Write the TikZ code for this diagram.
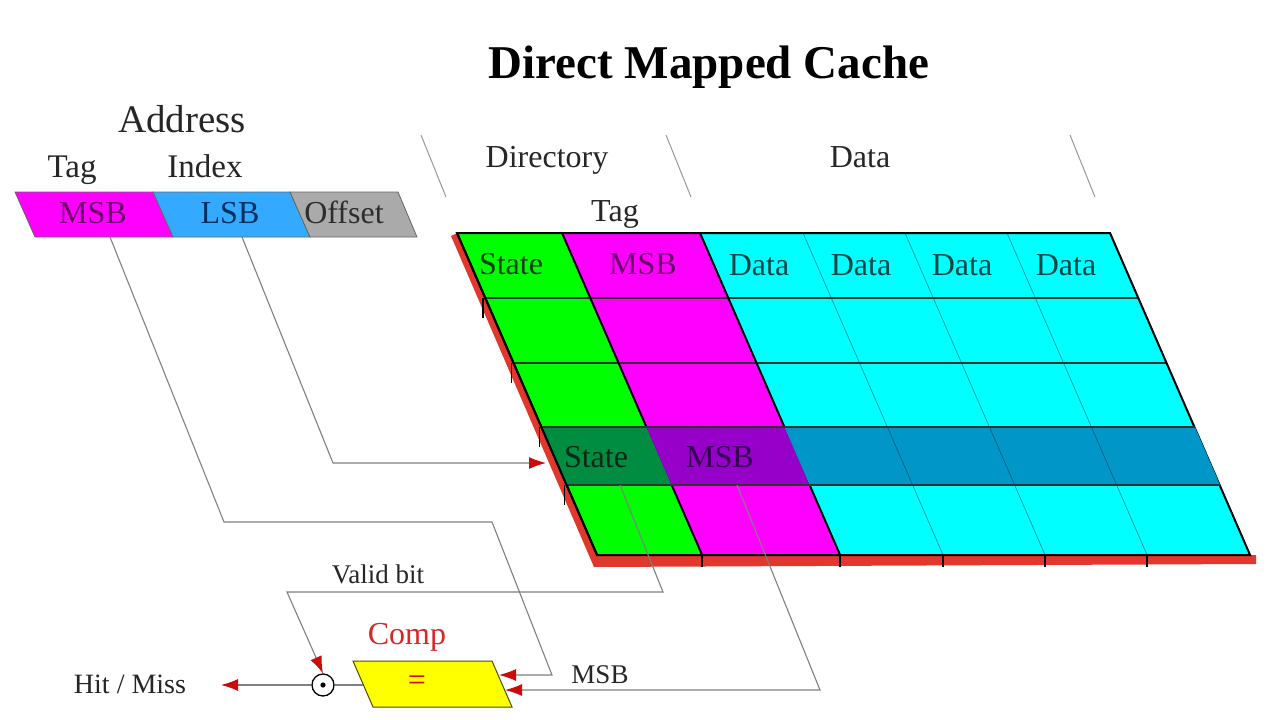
\documentclass[tikz,border=0pt]{standalone}
\usepackage{fontspec}
\setmainfont{Liberation Serif}
\usetikzlibrary{arrows.meta}
\definecolor{cgreen}{RGB}{0,255,0}
\definecolor{cmag}{RGB}{255,0,255}
\definecolor{ccyan}{RGB}{0,255,255}
\definecolor{clsb}{RGB}{51,170,255}
\definecolor{cgray}{RGB}{170,170,170}
\definecolor{hgreen}{RGB}{0,140,65}
\definecolor{hmag}{RGB}{150,0,200}
\definecolor{hcyan}{RGB}{0,150,200}
\definecolor{cred}{RGB}{225,55,45}
\definecolor{arrred}{RGB}{205,10,10}
\definecolor{cyel}{RGB}{255,255,0}
\definecolor{thinteal}{RGB}{0,150,160}
\definecolor{msbtxt}{RGB}{105,0,105}
\definecolor{lsbtxt}{RGB}{0,45,95}
\definecolor{offtxt}{RGB}{45,45,45}
\definecolor{sttxt}{RGB}{20,60,20}
\definecolor{dattxt}{RGB}{0,70,70}
\definecolor{hsttxt}{RGB}{10,40,20}
\definecolor{hmsbtxt}{RGB}{55,0,85}
\definecolor{compred}{RGB}{215,40,40}
\newcommand{\myfs}[1]{\fontsize{#1}{#1}\selectfont}
\tikzset{
  lbl/.style={inner sep=0pt, anchor=base, text=black!85},
  celltxt/.style={inner sep=0pt, anchor=base},
  conn/.style={draw=black!50, line width=1.1pt},
  arr/.style={conn, -{Latex[length=17pt,width=12pt,color=arrred]}},
  divider/.style={draw=black!40, line width=1pt},
  rowline/.style={draw=black!80, line width=1.3pt},
  colline/.style={draw=black, line width=2pt},
  dataline/.style={draw=thinteal, line width=0.7pt},
  tickline/.style={draw=black, line width=1.2pt},
  abox/.style={draw=black!60, line width=0.8pt},
}
\begin{document}
\begin{tikzpicture}[x=1pt,y=-1pt]
\useasboundingbox (0,0) rectangle (1280,720);
\fill[white] (0,0) rectangle (1280,720);

% title and headers
\node[lbl, text=black, font=\bfseries\myfs{47}] (title) at (709,78) {Direct Mapped Cache};
\node[lbl, font=\myfs{39}] (addr) at (182,132) {Address};
\node[lbl, font=\myfs{33}] (tagA) at (72,177) {Tag};
\node[lbl, font=\myfs{33}] (idx) at (205,177) {Index};

% address bar
\filldraw[abox, fill=cmag] (15,192) -- (153,192) -- (173,237) -- (35,237) -- cycle;
\filldraw[abox, fill=clsb] (153,192) -- (290,192) -- (310,237) -- (173,237) -- cycle;
\filldraw[abox, fill=cgray] (290,192) -- (398,192) -- (417,237) -- (310,237) -- cycle;
\node[celltxt, text=msbtxt, font=\myfs{32}] (amsb) at (93,223) {MSB};
\node[celltxt, text=lsbtxt, font=\myfs{32}] (alsb) at (230,223) {LSB};
\node[celltxt, text=offtxt, font=\myfs{32}] (aoff) at (344,223) {Offset};

% dividers
\draw[divider] (421,135) -- (446,197);
\draw[divider] (666,135) -- (691,197);
\draw[divider] (1070,135) -- (1095,197);
\node[lbl, font=\myfs{32}] (dir) at (547,167) {Directory};
\node[lbl, font=\myfs{32}] (datah) at (860,167) {Data};
\node[lbl, font=\myfs{32}] (tagT) at (615,221) {Tag};

% red side strip
\fill[cred] (451,236) -- (457,233) -- (597,555) -- (1256,555) -- (1256,564) -- (594,567) -- cycle;

% table
\begin{scope}[shift={(0,233)}, xslant=-0.435]
  \fill[cgreen] (457,0) -- (562,0) -- (562,322) -- (457,322) -- cycle;
  \fill[cmag] (562,0) -- (700,0) -- (700,322) -- (562,322) -- cycle;
  \fill[ccyan] (700,0) -- (1110,0) -- (1110,322) -- (700,322) -- cycle;
  \foreach \X in {803,905,1007} \draw[dataline] (\X,0) -- (\X,322);
  \foreach \R in {65,130} \draw[rowline] (457,\R) -- (1110,\R);
  \draw[colline] (562,0) -- (562,322);
  \draw[colline] (700,0) -- (700,322);
  \draw[colline] (457,0) -- (1110,0) -- (1110,322) -- (457,322) -- cycle;
  % highlighted row
  \fill[hgreen] (457,194) -- (562,194) -- (562,252) -- (457,252) -- cycle;
  \fill[hmag] (562,194) -- (700,194) -- (700,252) -- (562,252) -- cycle;
  \fill[hcyan] (700,194) -- (1110.5,194) -- (1110.5,252) -- (700,252) -- cycle;
  \foreach \X in {803,905,1007} \draw[dataline, draw=black!35!hcyan] (\X,194) -- (\X,252);
  \foreach \R in {194,252} \draw[rowline] (457,\R) -- (1110.5,\R);
  \draw[colline] (457,0) -- (457,322);
\end{scope}

% ticks on red strip
\foreach \x/\y in {483/298, 511.5/363, 539.5/427, 564.5/485} \draw[tickline] (\x,\y) -- (\x,\y+20);
\foreach \x in {702,840,943,1045,1147} \draw[tickline] (\x,555) -- (\x,567);

% table texts
\node[celltxt, text=sttxt, font=\myfs{32}] (st1) at (511,274) {State};
\node[celltxt, text=msbtxt, font=\myfs{32}] (tmsb) at (643,274) {MSB};
\node[celltxt, text=dattxt, font=\myfs{32}] (d1) at (759,275) {Data};
\node[celltxt, text=dattxt, font=\myfs{32}] (d2) at (861,275) {Data};
\node[celltxt, text=dattxt, font=\myfs{32}] (d3) at (962,275) {Data};
\node[celltxt, text=dattxt, font=\myfs{32}] (d4) at (1066,275) {Data};
\node[celltxt, text=hsttxt, font=\myfs{32}] (hst) at (596,467) {State};
\node[celltxt, text=hmsbtxt, font=\myfs{32}] (hmsb) at (720,467) {MSB};

% comparator and AND
\filldraw[draw=black!50!cyel!60!black, line width=1pt, fill=cyel] (353,661) -- (492,661) -- (512,707) -- (373,707) -- cycle;
\node[inner sep=0pt, text=arrred, font=\myfs{32}] (eq) at (417,683) {=};
\node[celltxt, text=compred, font=\myfs{32}] (comp) at (407,644) {Comp};
\node[circle, draw=black, line width=1.3pt, fill=white, minimum size=22pt, inner sep=0pt] (andg) at (323,685) {};
\fill (andg.center) circle (2.6);
\node[lbl, font=\myfs{27}] (valid) at (378,583) {Valid bit};
\node[lbl, font=\myfs{28}] (hm) at (130,693) {Hit / Miss};
\node[lbl, font=\myfs{27}] (msbl) at (600,683) {MSB};

% connector coordinates
\coordinate (amsbB) at (110,237);
\coordinate (alsbB) at (242,237);
\coordinate (rowIn) at (546,463);
\coordinate (validS) at (620,485);
\coordinate (tagS) at (737,485);
\coordinate (compA) at (499,675);
\coordinate (compB) at (505,690);
\coordinate (compL) at (363,685);
\coordinate (hmEnd) at (221,685);

% connectors
\draw[arr] (amsbB) -- (224,522) -- (492,522) -- (552,675) -- (compA);
\draw[arr] (alsbB) -- (333,463) -- (rowIn);
\draw[arr] (validS) -- (663,592) -- (287,592) -- (andg.north);
\draw[arr] (tagS) -- (820,690) -- (compB);
\draw[conn] (compL) -- (andg.east);
\draw[arr] (andg.west) -- (hmEnd);
\end{tikzpicture}
\end{document}
